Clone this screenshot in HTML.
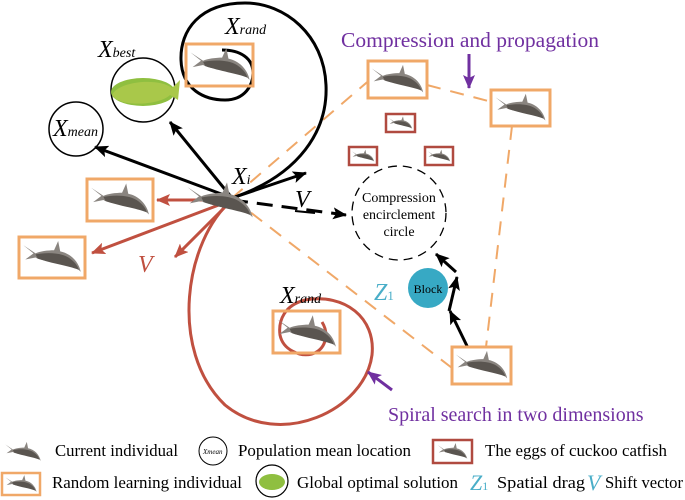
<!DOCTYPE html>
<html><head><meta charset="utf-8"><style>
body{margin:0;background:#fff}
svg{display:block;font-family:"Liberation Serif",serif}
</style></head><body>
<svg width="685" height="500" viewBox="0 0 685 500" xmlns="http://www.w3.org/2000/svg">
<defs>
<symbol id="fish" viewBox="0 0 60 36">
<path d="M2,6 L12,14 L4,20 L14,18 C20,22 36,22 44,24 C52,26 56,30 58,32 C56,22 48,14 38,12 L36,2 L32,11 C26,11 18,12 14,14 Z" fill="#8a8580"/>
<path d="M14,15 C24,13 38,13 46,18 C52,22 55,26 56,30 C46,26 30,24 16,19 Z" fill="#5a5550"/>
</symbol>
<marker id="abk" markerWidth="14" markerHeight="12" refX="13" refY="6" orient="auto" markerUnits="userSpaceOnUse"><path d="M0,0 L14,6 L0,12 L3,6Z" fill="#000"/></marker>
<marker id="ar" markerWidth="14" markerHeight="12" refX="13" refY="6" orient="auto" markerUnits="userSpaceOnUse"><path d="M0,0 L14,6 L0,12 L3,6Z" fill="#c05040"/></marker>
<marker id="ap" markerWidth="14" markerHeight="12" refX="13" refY="6" orient="auto" markerUnits="userSpaceOnUse"><path d="M0,0 L14,6 L0,12 L3,6Z" fill="#7030a0"/></marker>
</defs>

<g stroke="#f0a868" stroke-width="2" stroke-dasharray="14,10" fill="none">
<line x1="232" y1="198" x2="372" y2="78"/>
<line x1="427" y1="85" x2="492" y2="102"/>
<line x1="512" y1="126" x2="486" y2="347"/>
<line x1="232" y1="198" x2="452" y2="368"/>
</g>

<path d="M232,198 C300,175 328,130 326,85 C324,35 285,3 245,3 C200,3 180,30 181,60 C182,90 205,100 225,100 C245,100 253,85 253,73 C253,58 240,50 222,50" fill="none" stroke="#000" stroke-width="3"/>
<path d="M232,200 C185,240 168,350 225,405 C280,450 365,410 372,355 C376,318 345,293 305,300 C285,305 278,320 280,335 C283,350 300,357 312,354 C325,350 330,335 322,322" fill="none" stroke="#c05040" stroke-width="3"/>

<circle cx="143" cy="90" r="32" fill="#fff" stroke="#000" stroke-width="1.5"/>
<ellipse cx="143" cy="92" rx="32" ry="14" fill="#8fbf40"/>
<path d="M112,95 C120,80 160,78 172,88 L180,80 L178,100 L170,95 C160,105 120,108 112,95Z" fill="#a9c84a"/>
<circle cx="76" cy="129" r="27" fill="#fff" stroke="#000" stroke-width="1.5"/>
<text x="53" y="136" font-size="24" font-style="italic">X<tspan font-size="14">mean</tspan></text>
<text x="98" y="57" font-size="24" font-style="italic">X<tspan font-size="14">best</tspan></text>
<text x="225" y="34" font-size="24" font-style="italic">X<tspan font-size="14">rand</tspan></text>
<text x="280" y="303" font-size="24" font-style="italic">X<tspan font-size="14">rand</tspan></text>
<text x="232" y="184" font-size="24" font-style="italic">X<tspan font-size="14">i</tspan></text>

<g stroke="#000" stroke-width="3" fill="none">
<line x1="232" y1="198" x2="95" y2="147" marker-end="url(#abk)"/>
<line x1="232" y1="198" x2="170" y2="122" marker-end="url(#abk)"/>
<line x1="232" y1="198" x2="306" y2="173" marker-end="url(#abk)"/>
<line x1="232" y1="200" x2="346" y2="215" stroke-dasharray="16,9" marker-end="url(#abk)"/>
<line x1="468" y1="348" x2="450" y2="311" marker-end="url(#abk)"/>
<line x1="449" y1="311" x2="457" y2="277" marker-end="url(#abk)"/>
<line x1="456" y1="272" x2="436" y2="254" marker-end="url(#abk)"/>
</g>
<text x="295" y="207" font-size="24" font-style="italic">V</text>
<line x1="295" y1="211" x2="315" y2="213" stroke="#000" stroke-width="2"/>

<g stroke="#c05040" stroke-width="3" fill="none">
<line x1="232" y1="200" x2="157" y2="200" marker-end="url(#ar)"/>
<line x1="232" y1="200" x2="92" y2="253" marker-end="url(#ar)"/>
<line x1="232" y1="200" x2="175" y2="257" marker-end="url(#ar)"/>
</g>
<text x="138" y="272" font-size="24" font-style="italic" fill="#c05040">V</text>

<use href="#fish" x="185" y="180" width="70" height="42"/>

<g fill="#fff" stroke="#f0a868" stroke-width="3">
<rect x="186" y="44" width="67" height="42" fill="none"/>
<rect x="87" y="179" width="66" height="42"/>
<rect x="19" y="237" width="66" height="41"/>
<rect x="273" y="311" width="67" height="42" fill="none"/>
<rect x="368" y="61" width="59" height="37"/>
<rect x="491" y="90" width="59" height="36"/>
<rect x="452" y="347" width="59" height="37"/>
</g>
<use href="#fish" x="188" y="46" width="64" height="38"/>
<use href="#fish" x="89" y="181" width="62" height="38"/>
<use href="#fish" x="21" y="239" width="62" height="37"/>
<use href="#fish" x="275" y="313" width="63" height="38"/>
<use href="#fish" x="370" y="63" width="55" height="33"/>
<use href="#fish" x="493" y="92" width="55" height="32"/>
<use href="#fish" x="454" y="349" width="55" height="33"/>
<g fill="#fff" stroke="#b04a40" stroke-width="2.5">
<rect x="386" y="114" width="29" height="18"/>
<rect x="349" y="147" width="28" height="18"/>
<rect x="425" y="147" width="28" height="18"/>
</g>
<use href="#fish" x="388" y="115" width="25" height="16"/>
<use href="#fish" x="351" y="148" width="24" height="16"/>
<use href="#fish" x="427" y="148" width="24" height="16"/>

<circle cx="399" cy="213" r="47" fill="none" stroke="#000" stroke-width="1.3" stroke-dasharray="9,6"/>
<g font-size="14" text-anchor="middle"><text x="399" y="202">Compression</text><text x="399" y="219">encirclement</text><text x="399" y="236">circle</text></g>
<circle cx="428" cy="288" r="20" fill="#37a9c4"/>
<text x="428" y="293" font-size="12" text-anchor="middle">Block</text>
<text x="374" y="300" font-size="24" fill="#4aaec8" font-style="italic">Z<tspan font-size="13" font-style="normal">1</tspan></text>

<text x="341" y="47" font-size="21.5" fill="#7030a0">Compression and propagation</text>
<line x1="469" y1="54" x2="469" y2="88" stroke="#7030a0" stroke-width="3" marker-end="url(#ap)"/>
<line x1="392" y1="390" x2="368" y2="372" stroke="#7030a0" stroke-width="3" marker-end="url(#ap)"/>
<text x="388" y="421" font-size="20" fill="#7030a0">Spiral search in two dimensions</text>

<g font-size="17">
<use href="#fish" x="4" y="440" width="38" height="24"/>
<text x="55" y="456" textLength="123" lengthAdjust="spacingAndGlyphs">Current individual</text>
<circle cx="213" cy="451" r="14" fill="none" stroke="#000" stroke-width="1"/>
<text x="203" y="454" font-size="7" font-style="italic">Xmean</text>
<text x="238" y="456" textLength="173" lengthAdjust="spacingAndGlyphs">Population mean location</text>
<rect x="433" y="440" width="39" height="23" fill="none" stroke="#b04a40" stroke-width="2.5"/>
<use href="#fish" x="435" y="442" width="35" height="19"/>
<text x="485" y="456" textLength="182" lengthAdjust="spacingAndGlyphs">The eggs of cuckoo catfish</text>
<rect x="2" y="473" width="38" height="22" fill="none" stroke="#f0a868" stroke-width="2.5"/>
<use href="#fish" x="3" y="474" width="36" height="20"/>
<text x="52" y="488" textLength="190" lengthAdjust="spacingAndGlyphs">Random learning individual</text>
<circle cx="272" cy="481" r="16" fill="none" stroke="#000" stroke-width="1.2"/>
<ellipse cx="272" cy="482" rx="13" ry="8" fill="#8fbf40"/>
<text x="297" y="488" textLength="161" lengthAdjust="spacingAndGlyphs">Global optimal solution</text>
<text x="470" y="490" font-size="22" fill="#4aaec8" font-style="italic">Z<tspan font-size="12" font-style="normal">1</tspan></text>
<text x="497" y="488" textLength="88" lengthAdjust="spacingAndGlyphs">Spatial drag</text>
<text x="587" y="490" font-size="22" fill="#4aaec8" font-style="italic">V</text>
<text x="605" y="488" textLength="78" lengthAdjust="spacingAndGlyphs">Shift vector</text>
</g>
</svg>
</body></html>
